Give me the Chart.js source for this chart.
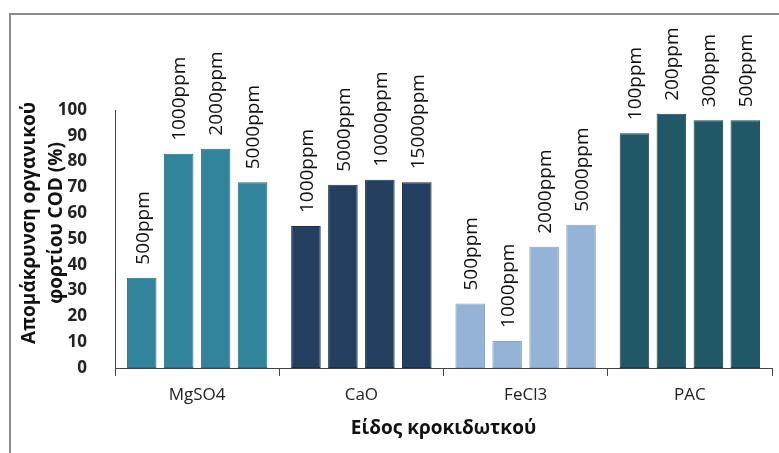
<!DOCTYPE html>
<html>
<head>
<meta charset="utf-8">
<script src="https://cdn.jsdelivr.net/npm/chart.js@4"></script>
<style>
  body { margin: 0; background: #fff; }
  canvas { display: block; }
</style>
</head>
<body>
<canvas id="chart" width="779" height="453"></canvas>
<script>
// flocculant types on the x axis
const categories = ['MgSO4', 'CaO', 'FeCl3', 'PAC'];

// COD removal (%) for the four doses of each flocculant
const dose1 = [35, 55, 25, 91];
const dose2 = [83, 71, 10.5, 98.5];
const dose3 = [85, 73, 47, 96];
const dose4 = [72, 72, 55.5, 96];

// dose text written above each bar
const doseText1 = ['500ppm', '1000ppm', '500ppm', '100ppm'];
const doseText2 = ['1000ppm', '5000ppm', '1000ppm', '200ppm'];
const doseText3 = ['2000ppm', '10000ppm', '2000ppm', '300ppm'];
const doseText4 = ['5000ppm', '15000ppm', '5000ppm', '500ppm'];

const yTitle = ['Απομάκρυνση οργανικού', 'φορτίου COD (%)'];
const xTitle = 'Είδος κροκιδωτκού';

const groupColors = ['#31849b', '#243f60', '#95b3d7', '#215868'];
const groupBorders = ['#286d80', '#19304a', '#86a4c8', '#17434f'];

const fontFamily = '"Open Sans", "DejaVu Sans", sans-serif';

function makeSet(values, texts) {
    return {
        data: values,
        doseText: texts,
        backgroundColor: groupColors,
        borderColor: groupBorders,
        borderWidth: 1,
        borderSkipped: false,
        categoryPercentage: 0.9,
        barPercentage: 0.8
    };
}

// grey frame round the chart (top and left only, as in the picture)
const framePlugin = {
    id: 'frame',
    beforeDraw(chart) {
        const ctx = chart.ctx;
        ctx.save();
        ctx.fillStyle = '#fff';
        ctx.fillRect(0, 0, chart.width, chart.height);
        ctx.strokeStyle = '#8a8a8a';
        ctx.lineWidth = 2;
        ctx.beginPath();
        ctx.moveTo(10, chart.height);
        ctx.lineTo(10, 14);
        ctx.lineTo(chart.width, 14);
        ctx.stroke();
        ctx.restore();
    }
};

// vertical dose labels above the bars
const doseLabelPlugin = {
    id: 'doseLabels',
    afterDatasetsDraw(chart) {
        const ctx = chart.ctx;
        const size = 19;
        ctx.save();
        ctx.font = size + 'px ' + fontFamily;
        ctx.fillStyle = '#111';
        ctx.textAlign = 'left';
        ctx.textBaseline = 'alphabetic';
        chart.data.datasets.forEach((ds, i) => {
            chart.getDatasetMeta(i).data.forEach((bar, j) => {
                ctx.save();
                ctx.translate(bar.x + size * 0.36, bar.y - 13);
                ctx.rotate(-Math.PI / 2);
                ctx.fillText(ds.doseText[j], 0, 0);
                ctx.restore();
            });
        });
        ctx.restore();
    }
};

// two-line y title, sitting a bit above the axis middle
const yTitlePlugin = {
    id: 'yTitle',
    afterDraw(chart) {
        const ctx = chart.ctx;
        const area = chart.chartArea;
        const cy = (area.top + area.bottom) / 2 - 16;
        ctx.save();
        ctx.font = 'bold 19px ' + fontFamily;
        ctx.fillStyle = '#111';
        ctx.textAlign = 'center';
        ctx.textBaseline = 'middle';
        yTitle.forEach((line, i) => {
            ctx.save();
            ctx.translate(30 + i * 27, cy);
            ctx.rotate(-Math.PI / 2);
            ctx.fillText(line, 0, 0);
            ctx.restore();
        });
        ctx.restore();
    }
};

const ctx = document.getElementById('chart').getContext('2d');
const chart = new Chart(ctx, {
    type: 'bar',
    data: {
        labels: categories,
        datasets: [
            makeSet(dose1, doseText1),
            makeSet(dose2, doseText2),
            makeSet(dose3, doseText3),
            makeSet(dose4, doseText4)
        ]
    },
    options: {
        responsive: false,
        animation: false,
        layout: {
            padding: { left: 0, right: 7, top: 110, bottom: 0 }
        },
        plugins: {
            legend: { display: false },
            tooltip: { enabled: false }
        },
        scales: {
            x: {
                afterFit: function(scale) { scale.height = 85; },
                grid: {
                    display: true,
                    drawOnChartArea: false,
                    tickLength: 8,
                    color: '#444'
                },
                border: { display: true, color: '#444', width: 1 },
                ticks: {
                    padding: 9,
                    color: '#222',
                    font: { family: fontFamily, size: 17 }
                },
                title: {
                    display: true,
                    text: xTitle,
                    color: '#111',
                    font: { family: fontFamily, size: 19, weight: 'bold' },
                    padding: { top: 0, bottom: 13 }
                }
            },
            y: {
                min: 0,
                max: 100,
                afterFit: function(scale) { scale.width = 115; },
                grid: { display: false },
                border: { display: true, color: '#444', width: 1 },
                ticks: {
                    stepSize: 10,
                    padding: 20,
                    color: '#222',
                    font: { family: fontFamily, size: 17, weight: 'bold' }
                }
            }
        }
    },
    plugins: [framePlugin, doseLabelPlugin, yTitlePlugin]
});
</script>
</body>
</html>
